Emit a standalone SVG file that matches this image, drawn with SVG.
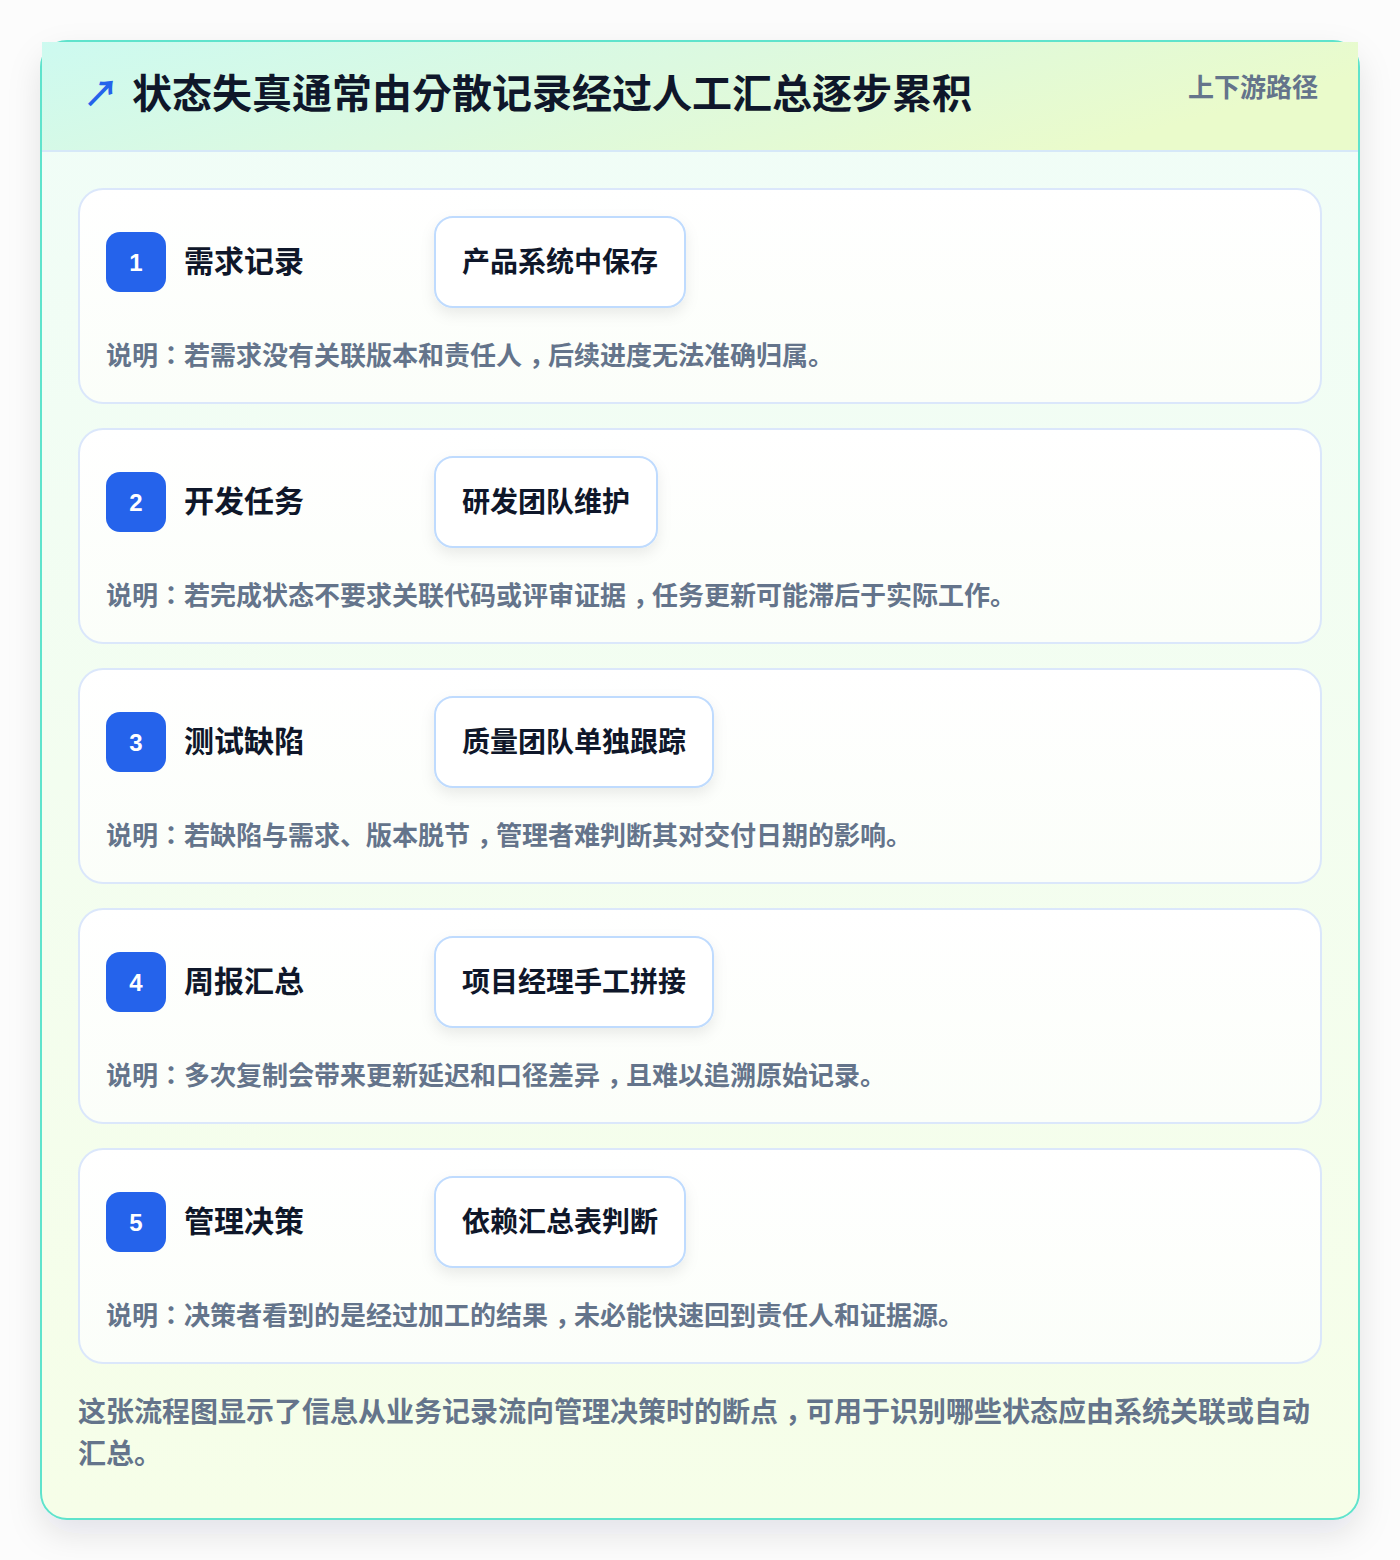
<svg xmlns="http://www.w3.org/2000/svg" width="1400" height="1560" viewBox="0 0 1400 1560">
  <style>
    .cjk { font-family: "Noto Sans CJK KR", "Noto Sans CJK SC", sans-serif; }
    .title { font-size: 40px; font-weight: 700; fill: #0f172a; }
    .sub { font-size: 26px; font-weight: 600; fill: #64748b; }
    .card { fill: url(#cardGrad); stroke: #dbe7fb; stroke-width: 2; }
    .badge { fill: #2563eb; }
    .num { font-family: "Liberation Sans", Arial, sans-serif; font-size: 24px; font-weight: 700; fill: #ffffff; }
    .step { font-size: 30px; font-weight: 700; fill: #0f172a; }
    .tag { fill: #ffffff; stroke: #bfdbfe; stroke-width: 2; }
    .tagtext { font-size: 28px; font-weight: 700; fill: #0f172a; }
    .desc { font-size: 26px; font-weight: 600; fill: #64748b; }
    .foot { font-size: 28px; font-weight: 600; fill: #64748b; }
    .pre { letter-spacing: 7px; }
    .cm { letter-spacing: -7px; }
  </style>
  <defs>
    <linearGradient id="headGrad" x1="0" y1="0" x2="1" y2="0.3">
      <stop offset="0" stop-color="#cdfaf0"/>
      <stop offset="0.5" stop-color="#dcf9e0"/>
      <stop offset="1" stop-color="#eafbcb"/>
    </linearGradient>
    <linearGradient id="bodyGrad" x1="0" y1="0" x2="0" y2="1">
      <stop offset="0" stop-color="#f0fdf8"/>
      <stop offset="1" stop-color="#f6fee8"/>
    </linearGradient>
    <linearGradient id="cardGrad" x1="0" y1="0" x2="0" y2="1">
      <stop offset="0" stop-color="#ffffff"/>
      <stop offset="1" stop-color="#fbfef9"/>
    </linearGradient>
    <filter id="outerShadow" x="-10%" y="-10%" width="120%" height="120%">
      <feDropShadow dx="0" dy="14" stdDeviation="16" flood-color="#0f172a" flood-opacity="0.10"/>
    </filter>
    <filter id="tagShadow" x="-20%" y="-30%" width="140%" height="170%">
      <feDropShadow dx="0" dy="6" stdDeviation="7" flood-color="#0f172a" flood-opacity="0.08"/>
    </filter>
  </defs>

  <rect x="0" y="0" width="1400" height="1560" fill="#fcfcfc"/>

  <g id="frame">
    <rect x="41" y="41" width="1318" height="1478" rx="26" fill="url(#bodyGrad)" stroke="#5fe3cc" stroke-width="2" filter="url(#outerShadow)"/>
    <rect x="42" y="42" width="1316" height="109" fill="url(#headGrad)"/>
    <line x1="42" y1="151" x2="1358" y2="151" stroke="#d6e8f8" stroke-width="2"/>
  </g>

  <g id="header">
    <text x="83" y="107" class="cjk" font-size="36" font-weight="700" fill="#2563eb">↗</text>
    <text x="132" y="108" class="cjk title">状态失真通常由分散记录经过人工汇总逐步累积</text>
    <text x="1318" y="97" class="cjk sub" text-anchor="end">上下游路径</text>
  </g>

  <g id="connectors"></g>

  <g id="step1">
    <rect x="79" y="189" width="1242" height="214" rx="24" class="card"/>
    <rect x="106" y="232" width="60" height="60" rx="14" class="badge"/>
    <text x="136" y="271" class="num" text-anchor="middle">1</text>
    <text x="184" y="272" class="cjk step">需求记录</text>
    <rect x="435" y="217" width="250" height="90" rx="18" class="tag" filter="url(#tagShadow)"/>
    <text x="462" y="272" class="cjk tagtext">产品系统中保存</text>
    <text x="106" y="365" class="cjk desc">说明：若需求没有关联版本和责任<tspan class="pre">人</tspan><tspan class="cm">，</tspan>后续进度无法准确归属。</text>
  </g>

  <g id="step2">
    <rect x="79" y="429" width="1242" height="214" rx="24" class="card"/>
    <rect x="106" y="472" width="60" height="60" rx="14" class="badge"/>
    <text x="136" y="511" class="num" text-anchor="middle">2</text>
    <text x="184" y="512" class="cjk step">开发任务</text>
    <rect x="435" y="457" width="222" height="90" rx="18" class="tag" filter="url(#tagShadow)"/>
    <text x="462" y="512" class="cjk tagtext">研发团队维护</text>
    <text x="106" y="605" class="cjk desc">说明：若完成状态不要求关联代码或评审证<tspan class="pre">据</tspan><tspan class="cm">，</tspan>任务更新可能滞后于实际工作。</text>
  </g>

  <g id="step3">
    <rect x="79" y="669" width="1242" height="214" rx="24" class="card"/>
    <rect x="106" y="712" width="60" height="60" rx="14" class="badge"/>
    <text x="136" y="751" class="num" text-anchor="middle">3</text>
    <text x="184" y="752" class="cjk step">测试缺陷</text>
    <rect x="435" y="697" width="278" height="90" rx="18" class="tag" filter="url(#tagShadow)"/>
    <text x="462" y="752" class="cjk tagtext">质量团队单独跟踪</text>
    <text x="106" y="845" class="cjk desc">说明：若缺陷与需求、版本脱<tspan class="pre">节</tspan><tspan class="cm">，</tspan>管理者难判断其对交付日期的影响。</text>
  </g>

  <g id="step4">
    <rect x="79" y="909" width="1242" height="214" rx="24" class="card"/>
    <rect x="106" y="952" width="60" height="60" rx="14" class="badge"/>
    <text x="136" y="991" class="num" text-anchor="middle">4</text>
    <text x="184" y="992" class="cjk step">周报汇总</text>
    <rect x="435" y="937" width="278" height="90" rx="18" class="tag" filter="url(#tagShadow)"/>
    <text x="462" y="992" class="cjk tagtext">项目经理手工拼接</text>
    <text x="106" y="1085" class="cjk desc">说明：多次复制会带来更新延迟和口径差<tspan class="pre">异</tspan><tspan class="cm">，</tspan>且难以追溯原始记录。</text>
  </g>

  <g id="step5">
    <rect x="79" y="1149" width="1242" height="214" rx="24" class="card"/>
    <rect x="106" y="1192" width="60" height="60" rx="14" class="badge"/>
    <text x="136" y="1231" class="num" text-anchor="middle">5</text>
    <text x="184" y="1232" class="cjk step">管理决策</text>
    <rect x="435" y="1177" width="250" height="90" rx="18" class="tag" filter="url(#tagShadow)"/>
    <text x="462" y="1232" class="cjk tagtext">依赖汇总表判断</text>
    <text x="106" y="1325" class="cjk desc">说明：决策者看到的是经过加工的结<tspan class="pre">果</tspan><tspan class="cm">，</tspan>未必能快速回到责任人和证据源。</text>
  </g>

  <g id="footer">
    <text x="78" y="1422" class="cjk foot">这张流程图显示了信息从业务记录流向管理决策时的断<tspan class="pre">点</tspan><tspan class="cm">，</tspan>可用于识别哪些状态应由系统关联或自动</text>
    <text x="78" y="1464" class="cjk foot">汇总。</text>
  </g>
</svg>
